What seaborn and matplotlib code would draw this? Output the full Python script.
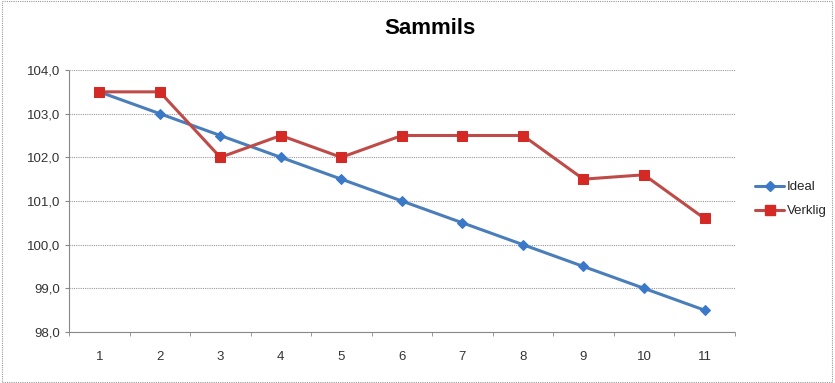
import pandas as pd
import matplotlib.pyplot as plt
import seaborn as sns
from matplotlib.patches import Rectangle
from matplotlib.lines import Line2D

# data
dagar = list(range(1, 12))
ideal = [103.5, 103.0, 102.5, 102.0, 101.5, 101.0, 100.5, 100.0, 99.5, 99.0, 98.5]
verklig = [103.5, 103.5, 102.0, 102.5, 102.0, 102.5, 102.5, 102.5, 101.5, 101.6, 100.6]

df = pd.DataFrame({'dag': dagar * 2,
                   'varde': ideal + verklig,
                   'serie': ['Ideal'] * 11 + ['Verklig'] * 11})

sns.set_style('white')
plt.rcParams['font.family'] = ['Liberation Sans', 'DejaVu Sans']

fig = plt.figure(figsize=(8.35, 3.83), dpi=100)
ax = fig.add_axes([0.0826, 0.1332, 0.7974, 0.684])

sns.lineplot(data=df, x='dag', y='varde', hue='serie', style='serie',
             palette={'Ideal': '#4a7ebb', 'Verklig': '#be4b48'},
             markers={'Ideal': 'D', 'Verklig': 's'}, dashes=False,
             linewidth=2.2, ax=ax, legend=False)
for line, fc, ms in zip(ax.lines, ['#3a78c8', '#d42a26'], [5, 7.5]):
    line.set_markerfacecolor(fc)
    line.set_markeredgecolor(fc)
    line.set_markersize(ms)

ax.set_xlim(0.5, 11.5)
ax.set_ylim(98, 104)
ax.set_yticks([98, 99, 100, 101, 102, 103, 104])
ax.set_yticklabels(['98,0', '99,0', '100,0', '101,0', '102,0', '103,0', '104,0'])
ax.set_xticks(dagar)
ax.set_xticklabels([str(d) for d in dagar])
ax.set_xticks([d + 0.5 for d in range(0, 12)], minor=True)
ax.tick_params(axis='x', which='major', length=0, pad=14, labelsize=9.5, colors='#333333')
ax.tick_params(axis='x', which='minor', length=3, direction='out', color='#888888', bottom=True)
ax.tick_params(axis='y', length=3, direction='out', color='#888888', labelsize=9.5,
               colors='#333333', left=True)
ax.set_xlabel('')
ax.set_ylabel('')
ax.grid(axis='y', color='#999999', linestyle=(0, (1, 1)), linewidth=0.8)
ax.set_axisbelow(True)
for s in ['top', 'right']:
    ax.spines[s].set_visible(False)
for s in ['left', 'bottom']:
    ax.spines[s].set_color('#888888')
    ax.spines[s].set_linestyle((0, (1, 1)))
    ax.spines[s].set_linewidth(0.8)

fig.text(0.515, 0.925, 'Sammils', ha='center', va='center', fontsize=16,
         fontweight='bold', color='black')

handles = [Line2D([], [], color='#4a7ebb', lw=2.2, marker='D', ms=5, mfc='#3a78c8', mec='#3a78c8'),
           Line2D([], [], color='#be4b48', lw=2.2, marker='s', ms=7, mfc='#d42a26', mec='#d42a26')]
fig.legend(handles, ['Ideal', 'Verklig'], loc='center left', bbox_to_anchor=(0.89, 0.48),
           frameon=False, fontsize=9.5, handlelength=2.2, handletextpad=0.2, labelspacing=0.9)

fig.patches.append(Rectangle((0.002, 0.003), 0.994, 0.994, transform=fig.transFigure,
                             fill=False, edgecolor='#999999', linestyle=(0, (1, 1)), lw=0.8))

fig.savefig('out.png', dpi=100)
